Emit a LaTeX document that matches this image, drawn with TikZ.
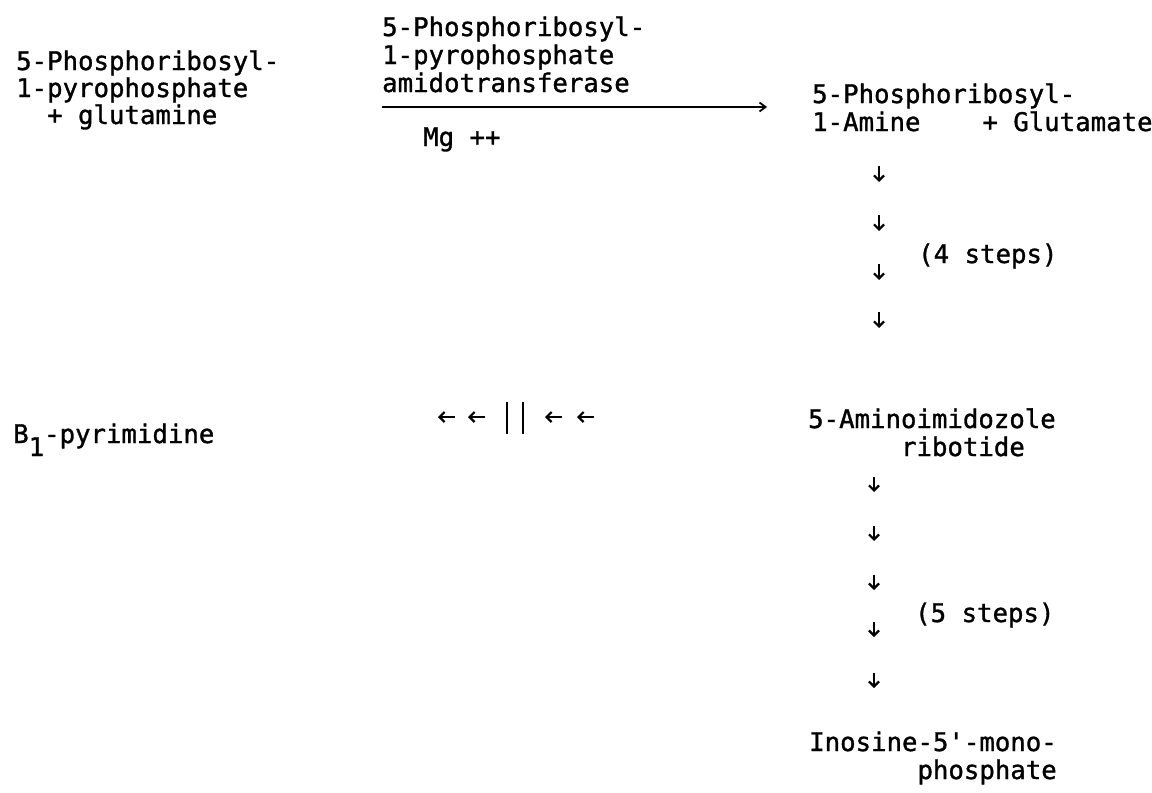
\documentclass[tikz,border=0pt]{standalone}
\usepackage{fontspec}
\setmonofont{DejaVu Sans Mono}[FakeBold=1.2]
\usetikzlibrary{arrows.meta}
\begin{document}
\begin{tikzpicture}[x=1pt,y=-1pt,
  lbl/.style={inner sep=0pt, anchor=base west, align=left,
    font=\ttfamily\fontsize{25.7}{28}\selectfont},
  tight/.style={font=\ttfamily\fontsize{25.7}{27}\selectfont},
  tick/.style={line width=2.2pt,
    -{Straight Barb[length=5pt,width=10pt,line width=2.2pt]}},
  rxn/.style={line width=2.2pt,
    -{Straight Barb[length=6pt,width=9pt,line width=1.8pt]}},
  bar/.style={line width=2.6pt},
]
\useasboundingbox (0,0) rectangle (1152,793);

% substrates, enzyme and products
\node[lbl,tight] (prpp) at (16,124) {5-Phosphoribosyl-\\1-pyrophosphate\\\phantom{xx}+ glutamine};
\node[lbl] (enz) at (382,92) {5-Phosphoribosyl-\\1-pyrophosphate\\amidotransferase};
\node[lbl] (mg) at (423,146) {Mg ++};
\node[lbl] (pra) at (812,131) {5-Phosphoribosyl-\\1-Amine\phantom{xxxx}+ Glutamate};
\node[lbl] (steps4) at (918,263) {(4 steps)};
\node[lbl] (b1) at (13,443) {B\raisebox{-13pt}{1}-pyrimidine};
\node[lbl] (air) at (808,456) {5-Aminoimidozole\\\phantom{xxxxxx}ribotide};
\node[lbl] (steps5) at (915,622) {(5 steps)};
\node[lbl] (imp) at (809,779) {Inosine-5'-mono-\\\phantom{xxxxxxx}phosphate};

% amidotransferase reaction arrow
\coordinate (rxnL) at (enz.west |- 0,107);
\coordinate (rxnR) at (767,107);
\draw[rxn] (rxnL) -- (rxnR);

% four steps to the aminoimidazole ribotide
\foreach \y in {166,215,264,312}
  \draw[tick] (879,\y) -- (879,\y+16);

% five steps to IMP
\foreach \y in {477,526,575,622,673}
  \draw[tick] (874,\y) -- (874,\y+15);

% branch towards B1-pyrimidine
\foreach \x in {438,468,545,577}
  \draw[tick] (\x+17,417) -- (\x,417);
\draw[bar] (507,402) -- (507,434);
\draw[bar] (523,402) -- (523,434);
\end{tikzpicture}
\end{document}
